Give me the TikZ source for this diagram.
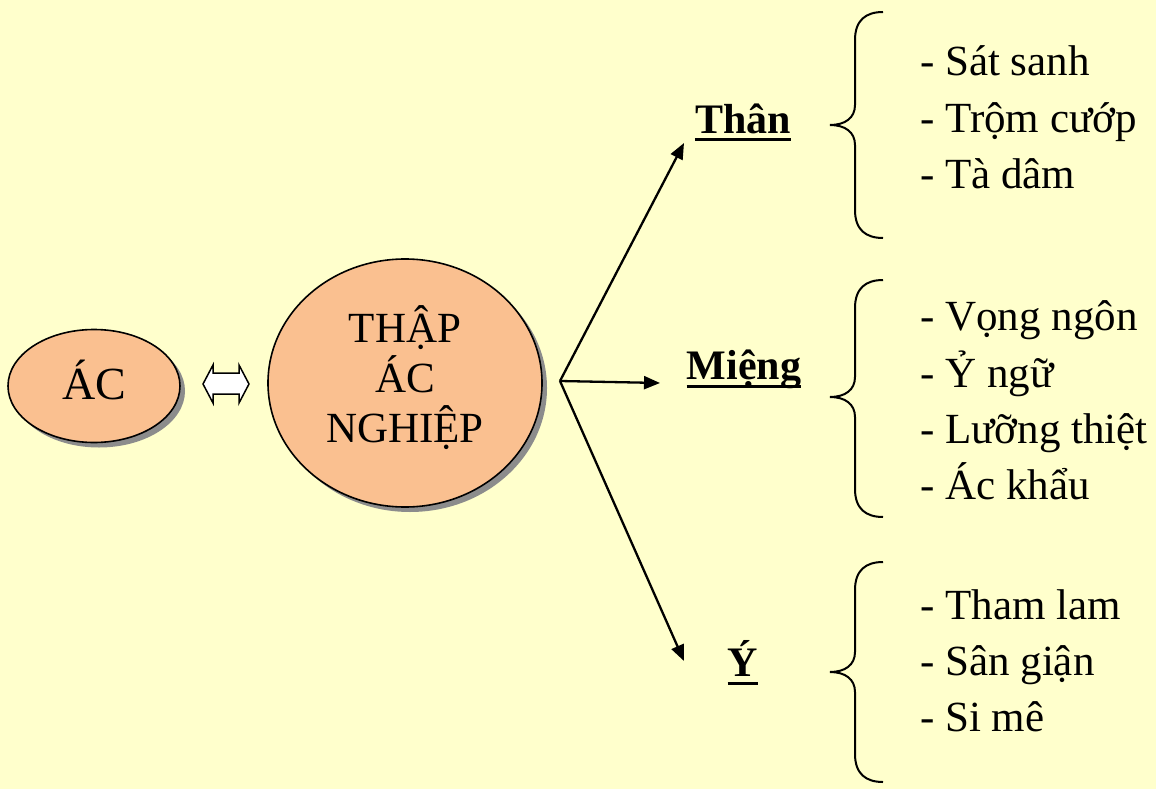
\documentclass[tikz,border=0pt]{standalone}
\usepackage{fontspec}
\setmainfont{Liberation Serif}
\usetikzlibrary{arrows.meta,shapes.geometric,shadows}
\definecolor{bg}{HTML}{FFFFCC}
\definecolor{peach}{HTML}{FAC090}
\newcommand\drawbrace[3]{%
  \draw[bracestyle] (883,#1) .. controls (866,#1) and (855,{#1+8}) .. (855,{#1+28})
    -- (855,{#2-20}) .. controls (855,{#2-7}) and (845,#2) .. (830,#2)
    .. controls (845,#2) and (855,{#2+7}) .. (855,{#2+20})
    -- (855,{#3-28}) .. controls (855,{#3-8}) and (866,#3) .. (883,#3);}
\begin{document}
\begin{tikzpicture}[x=1pt,y=-1pt,
  txt/.style={font=\fontsize{43}{50}\selectfont, inner sep=0pt, anchor=base west},
  ctr/.style={font=\fontsize{43}{50}\selectfont, inner sep=0pt, anchor=base},
  lbl/.style={font=\bfseries\fontsize{42}{50}\selectfont, inner sep=0pt, anchor=base},
  bubble/.style={draw=black, line width=1.6pt, fill=peach, ellipse,
    drop shadow={shadow xshift=5pt, shadow yshift=-5pt, fill=black!45, opacity=1}},
  arr/.style={-{Triangle[length=16pt,width=13pt]}, line width=2.3pt},
  bracestyle/.style={line width=2pt},
  uline/.style={line width=3pt}]
\useasboundingbox[fill=bg] (0,0) rectangle (1156,789);

% bubbles
\node[bubble, minimum width=172pt, minimum height=113pt] (ac) at (94,386) {};
\node[ctr, font=\fontsize{46}{50}\selectfont] (actext) at (94,399) {ÁC};
\node[bubble, minimum width=274pt, minimum height=248pt] (thap) at (405,383) {};
\node[ctr] (t1) at (405,342) {THẬP};
\node[ctr] (t2) at (405,392) {ÁC};
\node[ctr] (t3) at (405,442) {NGHIỆP};

% double arrow symbol
\draw[line width=1.5pt, fill=white, line join=miter]
  (203,384) -- (213,365) -- (213,373) -- (239,373) -- (239,365) -- (249,384)
  -- (239,403) -- (239,394) -- (213,394) -- (213,403) -- cycle;

% arrows
\coordinate (o) at (560,381);
\coordinate (tipT) at (684,143);
\coordinate (tipM) at (660,383);
\coordinate (tipY) at (684,661);
\draw[arr] (o) -- (tipT);
\draw[arr] (o) -- (tipM);
\draw[arr] (o) -- (tipY);

% labels
\node[lbl] (than) at (743,133) {Thân};
\node[lbl] (mieng) at (744,379) {Miệng};
\node[lbl] (y) at (743,676) {Ý};
\foreach \n in {than,mieng,y}
  \draw[uline] ([yshift=-7pt]\n.base west) -- ([yshift=-7pt]\n.base east);

% braces
\drawbrace{12}{125}{238}
\drawbrace{280}{397}{517}
\drawbrace{562}{672}{782}

% lists
\node[txt] (l1) at (920,76) {- Sát sanh};
\node[txt] (l2) at (920,132) {- Trộm cướp};
\node[txt] (l3) at (920,188) {- Tà dâm};
\node[txt] (m1) at (920,330) {- Vọng ngôn};
\node[txt] (m2) at (920,387) {- Ỷ ngữ};
\node[txt] (m3) at (920,443) {- Lưỡng thiệt};
\node[txt] (m4) at (920,499) {- Ác khẩu};
\node[txt] (y1) at (920,619) {- Tham lam};
\node[txt] (y2) at (920,675) {- Sân giận};
\node[txt] (y3) at (920,731) {- Si mê};
\end{tikzpicture}
\end{document}
